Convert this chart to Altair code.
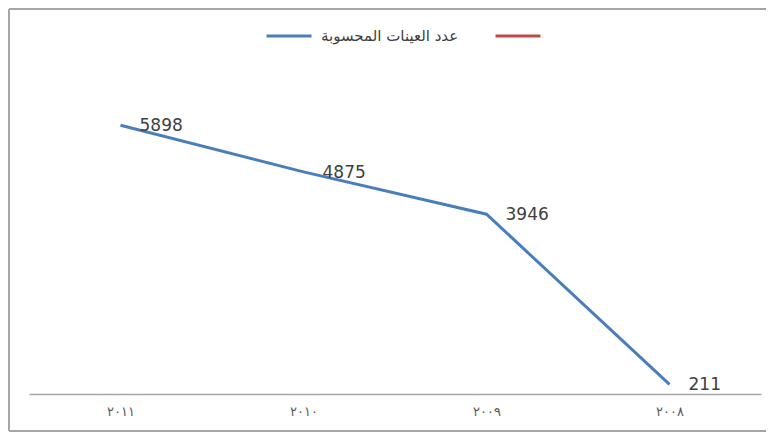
import altair as alt
import pandas as pd

categories = ["٢٠١١", "٢٠١٠", "٢٠٠٩", "٢٠٠٨"]
values = [5898, 4875, 3946, 211]
series_names = ["عدد العينات المحسوبة", " "]
series_colors = ["#4A7EBB", "#BE4B48"]

df = pd.DataFrame({
    "year": categories,
    "value": values,
    "series": [series_names[0]] * len(categories),
})
frame_df = pd.DataFrame({"f": [0]})

x_enc = alt.X(
    "year:N",
    sort=categories,
    scale=alt.Scale(type="point", padding=0.5),
    axis=alt.Axis(
        title=None,
        labelAngle=0,
        labelFontSize=13,
        labelFont="DejaVu Sans",
        labelColor="#595959",
        labelPadding=11,
        ticks=False,
        domainColor="#A6A6A6",
        domainWidth=1.5,
        grid=False,
    ),
)
y_enc = alt.Y("value:Q", scale=alt.Scale(domain=[0, 7000], nice=False), axis=None)

line = alt.Chart(df).mark_line(strokeWidth=3).encode(
    x=x_enc,
    y=y_enc,
    color=alt.Color(
        "series:N",
        scale=alt.Scale(domain=series_names, range=series_colors),
        legend=alt.Legend(
            title=None,
            orient="none",
            legendX=236,
            legendY=-63,
            direction="horizontal",
            symbolType="stroke",
            symbolSize=2025,
            symbolStrokeWidth=3,
            labelFontSize=15,
            labelFont="DejaVu Sans",
            labelColor="#404040",
            labelOffset=8,
            columnPadding=30,
        ),
    ),
)

labels = alt.Chart(df).mark_text(
    align="left", baseline="middle", dx=19, dy=1,
    fontSize=17, font="DejaVu Sans", color="#404040",
).encode(x=x_enc, y=y_enc, text=alt.Text("value:Q", format="d"))

frame_style = dict(stroke="#A6A6A6", strokeWidth=2)
frame_top = alt.Chart(frame_df).mark_rule(**frame_style).encode(
    x=alt.value(-20), x2=alt.value(740), y=alt.value(-66))
frame_left = alt.Chart(frame_df).mark_rule(**frame_style).encode(
    x=alt.value(-20), y=alt.value(-66), y2=alt.value(356))
frame_bottom = alt.Chart(frame_df).mark_rule(**frame_style).encode(
    x=alt.value(-20), x2=alt.value(740), y=alt.value(356))

chart = alt.layer(frame_top, frame_left, frame_bottom, line, labels).properties(
    width=732,
    height=319,
    autosize=alt.AutoSizeParams(type="none"),
    padding={"left": 21, "top": 67, "right": 5, "bottom": 38},
    background="white",
).configure_view(stroke=None)

chart.save("out.html", embed_options={"renderer": "svg", "actions": False})
